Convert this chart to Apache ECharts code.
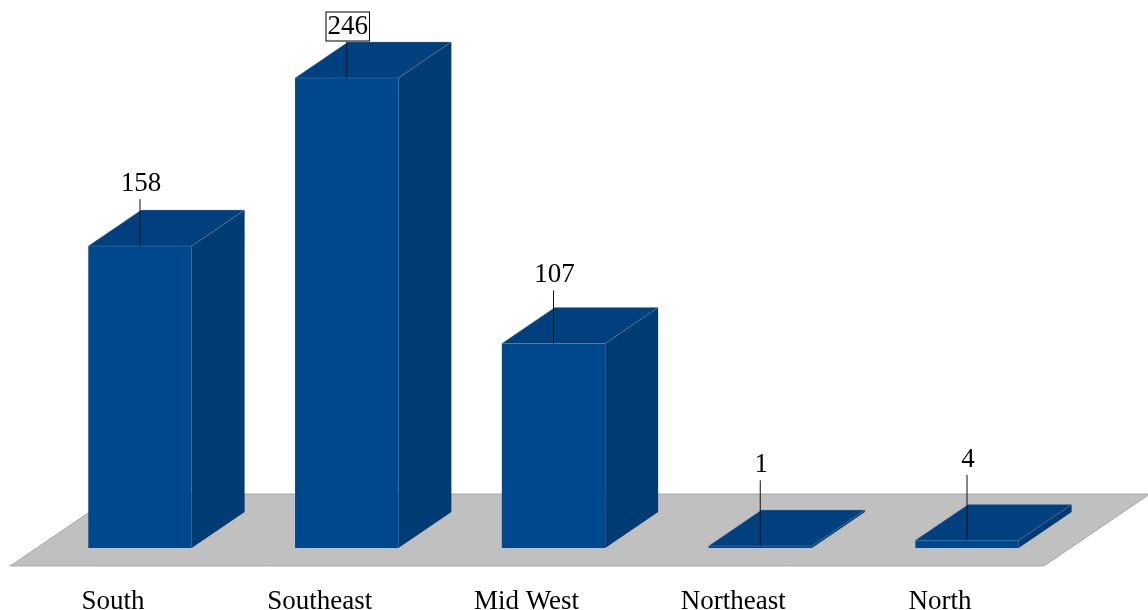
<!DOCTYPE html>
<html>
<head>
<meta charset="utf-8">
<script src="https://cdn.jsdelivr.net/npm/echarts@6/dist/echarts.min.js"></script>
<style>
html,body{margin:0;padding:0;background:#fff;}
#chart{width:1148px;height:610px;}
</style>
</head>
<body>
<div id="chart"></div>
<script>
const categories = ['South', 'Southeast', 'Mid West', 'Northeast', 'North'];
const values = [158, 246, 107, 1, 4];

const FRONT = '#00488E', TOP = '#00407F', SIDE = '#003B74';
const FONT = '27px "Liberation Serif", "Times New Roman", serif';
const maxVal = Math.max.apply(null, values);

function depth(api) {
  const band = api.size([1, 0])[0];
  return { band: band, dx: band * 0.256, dy: band * 0.174 };
}

function renderFloor(params, api) {
  const d = depth(api);
  const first = api.coord([0, 0]);
  const last = api.coord([categories.length - 1, 0]);
  const L = first[0] - d.band / 2, R = last[0] + d.band / 2, y0 = first[1];
  const fx = -0.5 * d.dx, fy = 0.5 * d.dy, bx = 1.5 * d.dx, by = -1.5 * d.dy;
  return {
    type: 'polygon',
    shape: { points: [[L + fx, y0 + fy], [R + fx, y0 + fy], [R + bx, y0 + by], [L + bx, y0 + by]] },
    style: { fill: '#C0C0C0', stroke: '#A8A8A8', lineWidth: 1 }
  };
}

function renderBar(params, api) {
  const d = depth(api);
  const v = api.value(1);
  const base = api.coord([api.value(0), 0]);
  const top = api.coord([api.value(0), v]);
  const cx = base[0], y0 = base[1], yt = top[1];
  const w = d.band / 2;
  const x0 = cx - w / 2, x1 = cx + w / 2;
  const dx = d.dx, dy = d.dy;
  const lift = 81 - 0.12 * v;
  const ty = yt - lift;
  const boxed = v === maxVal;
  return {
    type: 'group',
    children: [
      { type: 'polygon', shape: { points: [[x1, yt], [x1 + dx, yt - dy], [x1 + dx, y0 - dy], [x1, y0]] },
        style: { fill: SIDE } },
      { type: 'rect', shape: { x: x0, y: yt, width: w, height: Math.max(y0 - yt, 0.5) },
        style: { fill: FRONT } },
      { type: 'polygon', shape: { points: [[x0, yt], [x1, yt], [x1 + dx, yt - dy], [x0 + dx, yt - dy]] },
        style: { fill: TOP, stroke: 'rgba(120,140,170,0.6)', lineWidth: 0.6 } },
      { type: 'line', shape: { x1: cx, y1: yt, x2: cx, y2: ty + 15 },
        style: { stroke: '#111', lineWidth: 1 } },
      { type: 'text', style: {
          text: String(v), x: cx + 1, y: ty, font: FONT, fill: '#000',
          align: 'center', verticalAlign: 'middle',
          borderColor: boxed ? '#000' : null, borderWidth: boxed ? 1 : 0,
          padding: boxed ? [1, 1, 0, 1] : 0, backgroundColor: boxed ? '#fff' : null
        } }
    ]
  };
}

const chart = echarts.init(document.getElementById('chart'));
chart.setOption({
  animation: false,
  grid: { left: 36.6, right: 77.6, top: 70.3, bottom: 62, outerBoundsMode: 'none', containLabel: false },
  xAxis: {
    type: 'category', data: categories,
    axisLine: { show: false }, axisTick: { show: false },
    axisLabel: { fontSize: 27, fontFamily: '"Liberation Serif", "Times New Roman", serif', color: '#000',
      margin: 40, padding: [0, 54, 0, 0], interval: 0 }
  },
  yAxis: { type: 'value', min: 0, max: 250, show: false, splitLine: { show: false } },
  series: [
    { type: 'custom', renderItem: renderFloor, data: [[0, 0]], z: 1, silent: true, clip: false },
    { type: 'custom', renderItem: renderBar, data: categories.map((c, i) => [i, values[i]]), z: 2, clip: false }
  ]
});
</script>
</body>
</html>
